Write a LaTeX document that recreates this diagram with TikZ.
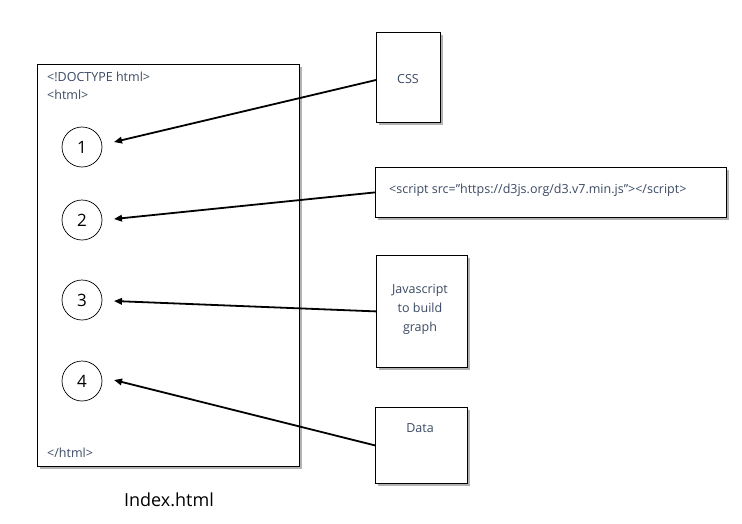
\documentclass[tikz,border=0pt]{standalone}
\usepackage{fontspec}
\setmainfont{Open Sans}
\usetikzlibrary{shadows,arrows.meta}
\definecolor{txt}{HTML}{3B4A63}
\begin{document}
\begin{tikzpicture}[x=1pt,y=-1pt,
  box/.style={draw=black,fill=white,line width=0.8pt,drop shadow={fill=black!60,opacity=0.5,shadow xshift=2.5pt,shadow yshift=-2.5pt}},
  num/.style={draw=black,circle,minimum size=40pt,inner sep=0pt,line width=0.7pt,font=\fontsize{17}{17}\selectfont},
  lbl/.style={text=txt,font=\fontsize{12.5}{19}\selectfont},
  conn/.style={line width=1.8pt,-{Triangle[length=8pt,width=6.5pt]}}]
\useasboundingbox (0,0) rectangle (742,523);
\node[box,anchor=north west,minimum width=262pt,minimum height=402pt] (page) at (37,64) {};
\node[lbl,anchor=west,inner sep=0pt] (doctype) at (47,77) {<!DOCTYPE html>};
\node[lbl,anchor=west,inner sep=0pt] (htmlopen) at (47,95) {<html>};
\node[lbl,anchor=west,inner sep=0pt] (htmlclose) at (47,453) {</html>};
\node[num] (c1) at (82,147) {1};
\node[num] (c2) at (82,220) {2};
\node[num] (c3) at (82,300) {3};
\node[num] (c4) at (82,381) {4};
\node[font=\fontsize{18}{18}\selectfont] (title) at (169,500) {Index.html};
\node[box,anchor=north west,minimum width=64pt,minimum height=90pt] (css) at (376,32) {};
\node[lbl] (csst) at (408,79) {CSS};
\node[box,anchor=north west,minimum width=351pt,minimum height=50pt] (scr) at (375,167) {};
\node[lbl,anchor=west,inner sep=0pt] (scrt) at (389,190) {<script src=\symbol{34}https://d3js.org/d3.v7.min.js\symbol{34}></script>};
\node[box,anchor=north west,minimum width=91pt,minimum height=112pt] (js) at (376,255) {};
\node[lbl,align=center] (jst) at (420,309) {Javascript\\to build\\graph};
\node[box,anchor=north west,minimum width=92pt,minimum height=76pt] (data) at (375,407) {};
\node[lbl] (datat) at (420,428) {Data};
\coordinate (e1) at (114,142);
\coordinate (e2) at (114,219);
\coordinate (e3) at (114,301);
\coordinate (e4) at (114,380);
\draw[conn] (css.west |- 0,80) -- (e1);
\draw[conn] (scr.west) -- (e2);
\draw[conn] (js.west) -- (e3);
\draw[conn] (data.west) -- (e4);
\end{tikzpicture}
\end{document}
